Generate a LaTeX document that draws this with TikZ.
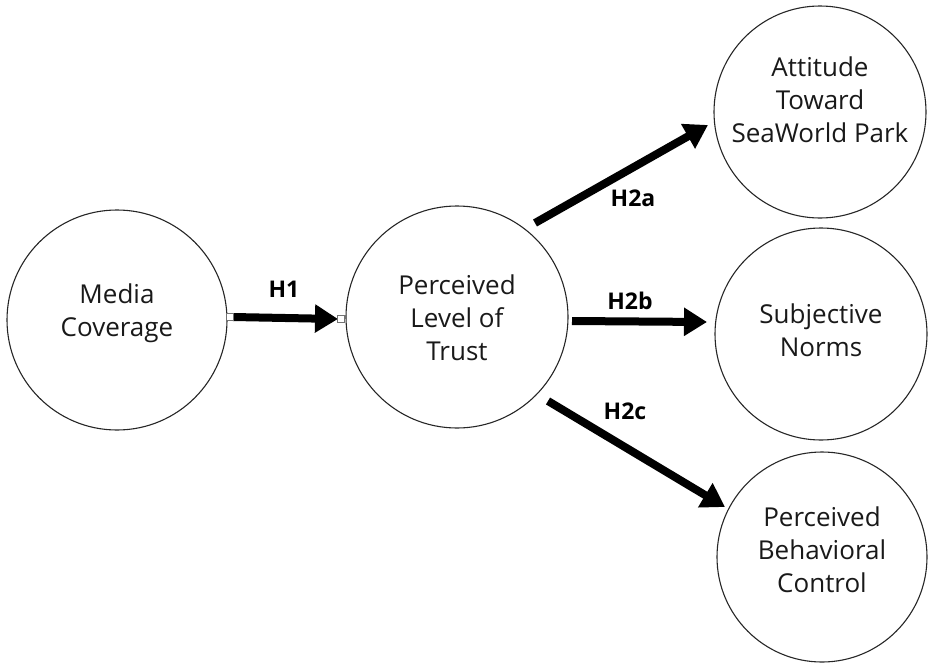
\documentclass[tikz,border=0pt]{standalone}
\usepackage{fontspec}
\setmainfont{Open Sans}
\usetikzlibrary{arrows.meta,calc}
\begin{document}
\begin{tikzpicture}[x=1pt,y=-1pt,
  construct/.style={circle,draw=black!85,line width=1.1pt,inner sep=0pt},
  ctext/.style={align=center,font=\fontsize{26}{33}\selectfont,text=black!90},
  path/.style={line width=8pt,-{Triangle[length=23pt,width=27pt]}},
  hyp/.style={font=\fontsize{23}{26}\selectfont\bfseries},
  handle/.style={draw=black!55,fill=white,line width=0.8pt,minimum size=7pt,inner sep=0pt}]
\useasboundingbox (0,0) rectangle (929,664);

% constructs
\node[construct,minimum size=220pt] (mc) at (117,320) {};
\node[construct,minimum size=222pt] (tr) at (457,317) {};
\node[construct,minimum size=212pt] (at) at (820,112) {};
\node[construct,minimum size=212pt] (sn) at (821,334) {};
\node[construct,minimum size=210pt] (pb) at (822,557) {};

\node[ctext] (mct) at ($(mc)+(0,-7)$) {Media\\Coverage};
\node[ctext] (trt) at ($(tr)+(0,1)$) {Perceived\\Level of\\Trust};
\node[ctext] (att) at ($(at)+(0,-12)$) {Attitude\\Toward\\SeaWorld Park};
\node[ctext] (snt) at ($(sn)+(0,-4)$) {Subjective\\Norms};
\node[ctext] (pbt) at ($(pb)+(0,-7)$) {Perceived\\Behavioral\\Control};

% path end points
\coordinate (h1s) at (233,317);
\coordinate (h1e) at (338,319);
\coordinate (h2as) at (535,223);
\coordinate (h2ae) at (708,125);
\coordinate (h2bs) at (572,321);
\coordinate (h2be) at (707,322);
\coordinate (h2cs) at (548,401);
\coordinate (h2ce) at (725,507);

% hypothesised paths
\draw[path] (h1s) -- (h1e);
\draw[path] (h2as) -- (h2ae);
\draw[path] (h2bs) -- (h2be);
\draw[path] (h2cs) -- (h2ce);

\node[handle] (hs) at (230,317) {};
\node[handle] (he) at (341,319) {};

% hypothesis labels
\node[hyp] (l1) at (284,289) {H1};
\node[hyp] (l2a) at (633,198) {H2a};
\node[hyp] (l2b) at (630,301) {H2b};
\node[hyp] (l2c) at (625,411) {H2c};
\end{tikzpicture}
\end{document}
